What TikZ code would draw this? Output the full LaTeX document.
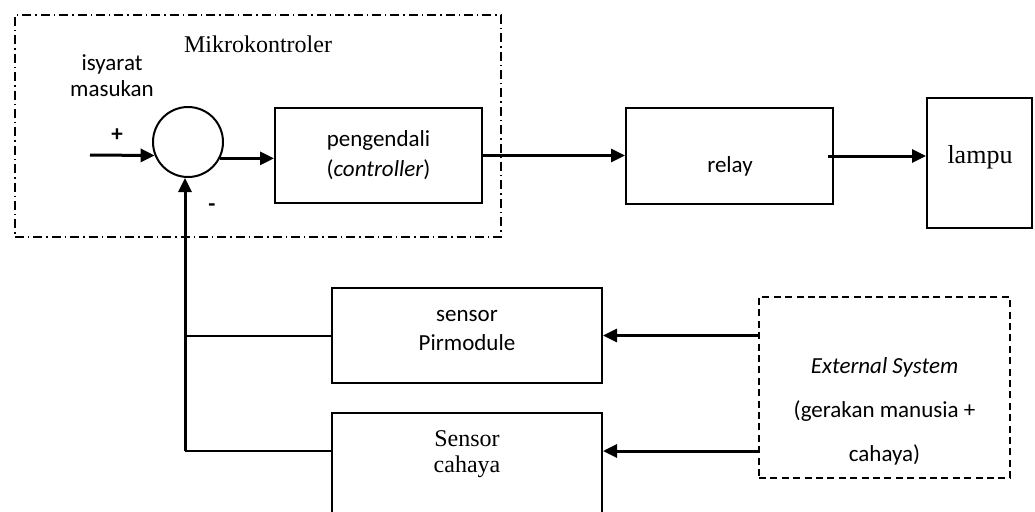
\documentclass[tikz,border=0pt]{standalone}
\usepackage{fontspec}
\setmainfont{Carlito}
\newfontfamily\timesfont{Liberation Serif}
\usepackage{tikz}
\usetikzlibrary{arrows.meta}
\tikzset{
  box/.style={draw, line width=1pt, rectangle, inner sep=0pt},
  sumnode/.style={draw, line width=1pt, circle, minimum size=35pt, inner sep=0pt},
  sig/.style={line width=1.5pt, -{Triangle[length=7pt,width=6.5pt]}},
  wire/.style={line width=1pt},
  mcubox/.style={draw, line width=0.9pt, dash pattern=on 4.5pt off 2pt on 0.7pt off 2pt},
  extbox/.style={draw, line width=1.2pt, dash pattern=on 3.5pt off 2.2pt},
  lab/.style={font=\fontsize{11.5}{15}\selectfont, align=center, inner sep=0pt},
  labs/.style={font=\timesfont\fontsize{12}{13}\selectfont, align=center, inner sep=0pt},
}
\begin{document}
\begin{tikzpicture}[x=0.5pt,y=-0.5pt]
  \useasboundingbox (0,0) rectangle (1035,511);

  % microcontroller part
  \node[mcubox, minimum width=243pt, minimum height=111pt] (mcu) at (258,126) {};
  \node[labs] (mcutxt) at (258,44) {Mikrokontroler};
  \node[lab, font=\fontsize{11.5}{13}\selectfont] (insig) at (112,76) {isyarat\\masukan};
  \node[lab, font=\bfseries\fontsize{11.5}{13}\selectfont] (plus) at (117,135) {+};
  \node[lab, font=\bfseries\fontsize{11.5}{13}\selectfont] (minus) at (212,208) {-};

  \node[sumnode] (sum) at (188,142) {};
  \node[box, lab, minimum width=103.5pt, minimum height=47.5pt] (ctrl) at (378.5,155.5)
    {pengendali\\(\textit{controller})};
  \node[box, minimum width=103.5pt, minimum height=48pt] (relay) at (729.5,156) {};
  \node[lab] (relaytxt) at (730,166) {relay};
  \node[box, minimum width=52.5pt, minimum height=65pt] (lamp) at (979.5,163) {};
  \node[labs, font=\timesfont\fontsize{13}{14}\selectfont] (lamptxt) at (980,157) {lampu};

  % sensors
  \node[box, minimum width=135pt, minimum height=47.5pt] (pir) at (467,335.5) {};
  \node[lab, font=\fontsize{11.5}{14.5}\selectfont] (pirtxt) at (467,330) {sensor\\Pirmodule};
  \node[box, minimum width=135pt, minimum height=53.5pt] (ldr) at (467,466.5) {};
  \node[labs] (ldrtxt) at (467,454) {Sensor\\cahaya};

  \node[extbox, minimum width=125.5pt, minimum height=90.5pt] (ext) at (884.5,387.5) {};
  \node[lab, font=\fontsize{11.5}{22}\selectfont] (exttxt) at (884.5,411)
    {\textit{External System}\\(gerakan manusia +\\cahaya)};

  \coordinate (in) at (90,155);
  \coordinate (fb) at (185,451);

  \draw[sig] (in) -- (sum.202);
  \draw[sig] (sum.-27) -- (sum.-27 -| ctrl.west);
  \draw[sig] (ctrl.east) -- (ctrl.east -| relay.west);
  \draw[sig] ([xshift=-3pt]relay.east) -- (relay.east -| lamp.west);

  \draw[sig] (fb) -- (fb |- sum.south);
  \draw[wire] (pir.west) -- (pir.west -| fb);
  \draw[wire] (fb -| ldr.west) -- (fb);
  \draw[sig] (pir.east -| ext.west) -- (pir.east);
  \draw[sig] (fb -| ext.west) -- (fb -| ldr.east);
\end{tikzpicture}
\end{document}
